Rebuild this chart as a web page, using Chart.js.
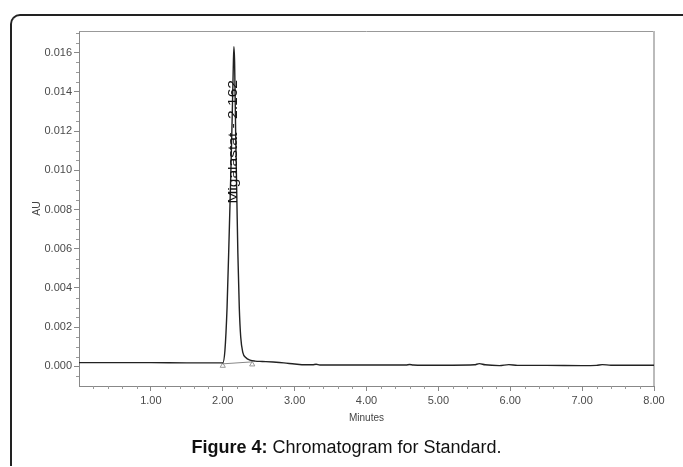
<!DOCTYPE html>
<html><head><meta charset="utf-8">
<script src="https://cdn.jsdelivr.net/npm/chart.js@4.4.1/dist/chart.umd.min.js"></script>
<style>
html,body{margin:0;padding:0;background:#fff;width:683px;height:467px;overflow:hidden;position:relative;}
#frame{position:absolute;left:10px;top:14px;width:690px;height:452px;border-top:2px solid #222;border-left:2px solid #222;border-top-left-radius:10px;box-sizing:border-box;}
#wrap{position:absolute;left:0;top:0;width:683px;height:467px;}
#caption{position:absolute;left:0;width:693px;top:437px;text-align:center;font:18px "Liberation Sans",Arial,sans-serif;color:#111;white-space:nowrap;}
</style></head><body>
<div id="frame"></div>
<div id="wrap"><canvas id="c" width="683" height="467"></canvas></div>
<div id="caption"><b>Figure 4:</b> Chromatogram for Standard.</div>
<script>
// ---- data ----
const times = [0, 0.5, 1.0, 1.5, 1.9, 2.0, 2.03, 2.06, 2.09, 2.11, 2.13, 2.145, 2.155, 2.165, 2.18, 2.195, 2.21, 2.23, 2.25, 2.28, 2.32, 2.38, 2.45, 2.55, 2.7, 2.85, 3.0, 3.15, 3.25, 3.3, 3.35, 3.6, 4.0, 4.4, 4.55, 4.6, 4.65, 4.8, 5.2, 5.5, 5.57, 5.65, 5.85, 5.98, 6.1, 6.5, 7.0, 7.2, 7.28, 7.4, 7.7, 8.0];
const au    = [0.00019, 0.00019, 0.00019, 0.00018, 0.00018, 0.00018, 0.0008, 0.003, 0.0068, 0.0095, 0.0125, 0.0150, 0.0163, 0.0155, 0.0118, 0.0088, 0.0058, 0.0030, 0.0015, 0.0007, 0.00045, 0.00032, 0.00027, 0.00025, 0.00022, 0.00018, 0.00012, 0.00008, 0.00008, 0.00011, 0.00007, 0.00007, 0.00007, 0.00007, 0.00007, 0.0001, 0.00007, 0.00006, 0.00006, 0.00008, 0.00014, 0.00008, 0.00004, 0.00009, 0.00005, 0.00005, 0.00004, 0.00005, 0.00009, 0.00006, 0.00006, 0.00006];
const baseT  = [2.0, 2.41];
const baseAU = [0.00013, 0.00023];
const markAU = [0.00003, 0.0001];
const peakName = 'Migalastat - 2.162';
const peakTime = 2.155;
const peakLabelFrom = 0.0083, peakLabelTo = 0.0146;
const xMajor = [1, 2, 3, 4, 5, 6, 7, 8];
const yMajor = [0, 0.002, 0.004, 0.006, 0.008, 0.010, 0.012, 0.014, 0.016];
const xMin = 0, xMax = 8, yMin = -0.001, yMax = 0.0171;

const xMinor = [];
for (let i = 1; i < 40; i++) if (i % 5 !== 0) xMinor.push(i * 0.2);
const yMinor = [];
for (let i = -1; i <= 34; i++) if (i % 4 !== 0) yMinor.push(i * 0.0005);

const FONT = '"Liberation Sans", Arial, sans-serif';

const deco = {
  id: 'deco',
  beforeDatasetsDraw(chart) {
    const {ctx, chartArea: a, scales: {x, y}} = chart;
    ctx.save();
    ctx.strokeStyle = '#999'; ctx.lineWidth = 1;
    ctx.beginPath(); ctx.moveTo(a.left, a.top + 0.5); ctx.lineTo(a.right, a.top + 0.5); ctx.stroke();
    ctx.strokeStyle = '#bbb'; ctx.lineWidth = 2;
    ctx.beginPath(); ctx.moveTo(a.right, a.top); ctx.lineTo(a.right, a.bottom); ctx.stroke();
    ctx.strokeStyle = '#999'; ctx.lineWidth = 1;
    xMinor.forEach(v => {
      const px = Math.round(x.getPixelForValue(v)) + 0.5;
      ctx.beginPath(); ctx.moveTo(px, a.bottom); ctx.lineTo(px, a.bottom + 3); ctx.stroke();
    });
    yMinor.forEach(v => {
      const py = Math.round(y.getPixelForValue(v)) + 0.5;
      ctx.beginPath(); ctx.moveTo(a.left, py); ctx.lineTo(a.left - 3, py); ctx.stroke();
    });
    ctx.restore();
  },
  afterDatasetsDraw(chart) {
    const {ctx, scales: {x, y}} = chart;
    const px = x.getPixelForValue(peakTime);
    const y0 = y.getPixelForValue(peakLabelFrom), y1 = y.getPixelForValue(peakLabelTo);
    ctx.save();
    ctx.font = '12px ' + FONT;
    ctx.fillStyle = '#111';
    ctx.textBaseline = 'middle';
    ctx.textAlign = 'left';
    const w = ctx.measureText(peakName).width;
    ctx.translate(px, y0);
    ctx.rotate(-Math.PI / 2);
    ctx.scale((y0 - y1) / w, 1);
    ctx.fillText(peakName, 0, 0);
    ctx.restore();
  }
};

new Chart(document.getElementById('c'), {
  type: 'scatter',
  data: {
    datasets: [
      { data: times.map((t, i) => ({x: t, y: au[i]})), showLine: true, borderColor: '#222', borderWidth: 1.4, pointRadius: 0, cubicInterpolationMode: 'monotone' },
      { data: baseT.map((t, i) => ({x: t, y: baseAU[i]})), showLine: true, borderColor: '#888', borderWidth: 1, pointRadius: 0 },
      { data: baseT.map((t, i) => ({x: t, y: markAU[i]})), showLine: false, pointStyle: 'triangle', pointRadius: 3, borderColor: '#999', backgroundColor: '#fff', borderWidth: 1 }
    ]
  },
  options: {
    responsive: false, animation: false, devicePixelRatio: 1,
    layout: { padding: { left: 0, top: 31, right: 29, bottom: 41 } },
    plugins: { legend: { display: false }, tooltip: { enabled: false } },
    scales: {
      x: {
        type: 'linear', position: 'bottom', min: xMin, max: xMax,
        afterFit(s) { s.height = 40; },
        afterBuildTicks(s) { s.ticks = xMajor.map(v => ({value: v})); },
        grid: { drawOnChartArea: false, drawTicks: true, tickLength: 5, color: '#888' },
        border: { color: '#888', width: 1 },
        ticks: { callback: v => v.toFixed(2), font: { family: FONT, size: 11 }, color: '#4a4a4a', padding: 3, maxRotation: 0, autoSkip: false },
        title: { display: true, text: 'Minutes', font: { family: FONT, size: 10 }, color: '#444', padding: { top: 0, bottom: 2 } }
      },
      y: {
        type: 'linear', position: 'left', min: yMin, max: yMax,
        afterFit(s) { s.width = 79; },
        afterBuildTicks(s) { s.ticks = yMajor.map(v => ({value: v})); },
        grid: { drawOnChartArea: false, drawTicks: true, tickLength: 5, color: '#888' },
        border: { color: '#888', width: 1 },
        ticks: { callback: v => v.toFixed(3), font: { family: FONT, size: 11 }, color: '#4a4a4a', padding: 2, autoSkip: false },
        title: { display: true, text: 'AU', font: { family: FONT, size: 10.5 }, color: '#444', padding: { top: 31, bottom: 0 } }
      }
    }
  },
  plugins: [deco]
});
</script>
</body></html>
